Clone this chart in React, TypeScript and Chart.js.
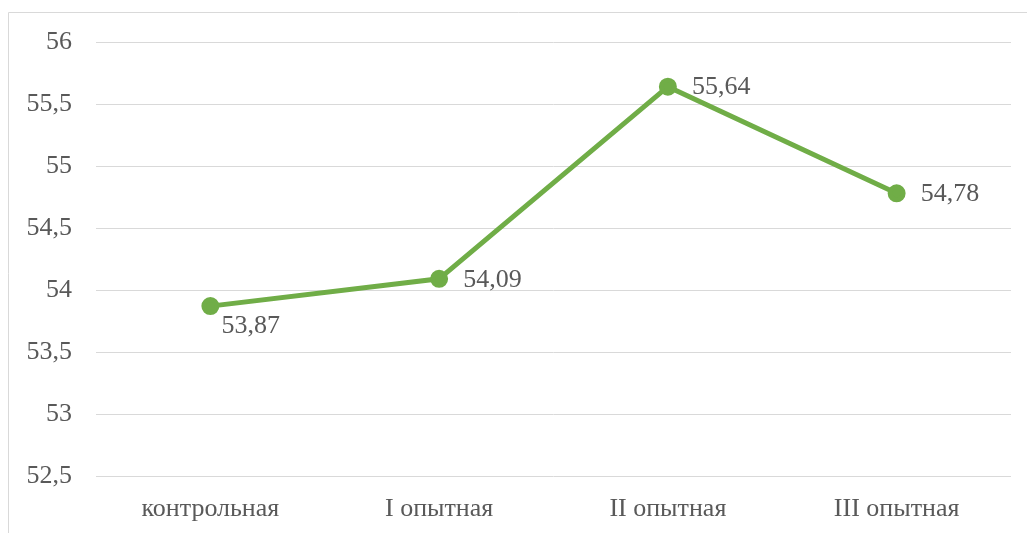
import React, { useEffect, useRef } from "react";
import { Chart, registerables } from "chart.js";

Chart.register(...registerables);

const categories = ["контрольная", "I опытная", "II опытная", "III опытная"];
const values = [53.87, 54.09, 55.64, 54.78];
const yMin = 52.5;
const yMax = 56;
const yStep = 0.5;
// label placement per point: "belowRight" or "right"
const labelPlacement = ["belowRight", "right", "right", "right"];

const FONT = "'Liberation Serif', 'Times New Roman', serif";
const TEXT = "#595959";
const GREEN = "#70AD47";

const fmt = (v: number) => String(v).replace(".", ",");

const framePlugin = {
  id: "frame",
  beforeDraw(chart: any) {
    const ctx = chart.ctx;
    ctx.save();
    ctx.strokeStyle = "#D9D9D9";
    ctx.lineWidth = 1;
    ctx.beginPath();
    ctx.moveTo(8.5, chart.height + 5);
    ctx.lineTo(8.5, 12.5);
    ctx.lineTo(chart.width + 5, 12.5);
    ctx.stroke();
    ctx.restore();
  },
};

const labelPlugin = {
  id: "pointLabels",
  afterDatasetsDraw(chart: any) {
    const ctx = chart.ctx;
    const meta = chart.getDatasetMeta(0);
    ctx.save();
    ctx.font = `26px ${FONT}`;
    ctx.fillStyle = TEXT;
    ctx.textBaseline = "middle";
    ctx.textAlign = "left";
    meta.data.forEach((pt: any, i: number) => {
      const v = values[i];
      const txt = fmt(v);
      if (labelPlacement[i] === "belowRight") {
        ctx.fillText(txt, pt.x + 11, pt.y + 20);
      } else {
        ctx.fillText(txt, pt.x + 24, pt.y + 1);
      }
    });
    ctx.restore();
  },
};

export default function App() {
  const ref = useRef<HTMLCanvasElement>(null);
  useEffect(() => {
    if (!ref.current) return;
    const chart = new Chart(ref.current, {
      type: "line",
      data: {
        labels: categories,
        datasets: [
          {
            data: values,
            borderColor: GREEN,
            backgroundColor: GREEN,
            borderWidth: 5,
            pointRadius: 6.5,
            pointHoverRadius: 6.5,
            pointBackgroundColor: GREEN,
            pointBorderColor: GREEN,
            tension: 0,
          },
        ],
      },
      options: {
        animation: false,
        responsive: false,
        maintainAspectRatio: false,
        layout: { padding: { top: 42, right: 16, bottom: 0, left: 0 } },
        plugins: {
          legend: { display: false },
          tooltip: { enabled: false },
        },
        scales: {
          x: {
            offset: true,
            grid: { display: false, drawTicks: false },
            border: { display: false },
            ticks: {
              color: TEXT,
              font: { family: FONT, size: 26 },
              padding: 18,
              maxRotation: 0,
            },
            afterFit(scale: any) {
              scale.height = 57;
            },
          },
          y: {
            min: yMin,
            max: yMax,
            grid: { color: "#D9D9D9", lineWidth: 1, drawTicks: false },
            border: { display: false },
            ticks: {
              stepSize: yStep,
              color: TEXT,
              font: { family: FONT, size: 26 },
              padding: 24,
              callback: (v: any) => fmt(Number(v)),
            },
            afterFit(scale: any) {
              scale.width = 96;
            },
          },
        },
      },
      plugins: [framePlugin, labelPlugin],
    });
    return () => chart.destroy();
  }, []);
  return (
    <div style={{ position: "absolute", left: 0, top: 0, width: 1027, height: 533, background: "#fff" }}>
      <canvas ref={ref} width={1027} height={533} style={{ display: "block" }} />
    </div>
  );
}
